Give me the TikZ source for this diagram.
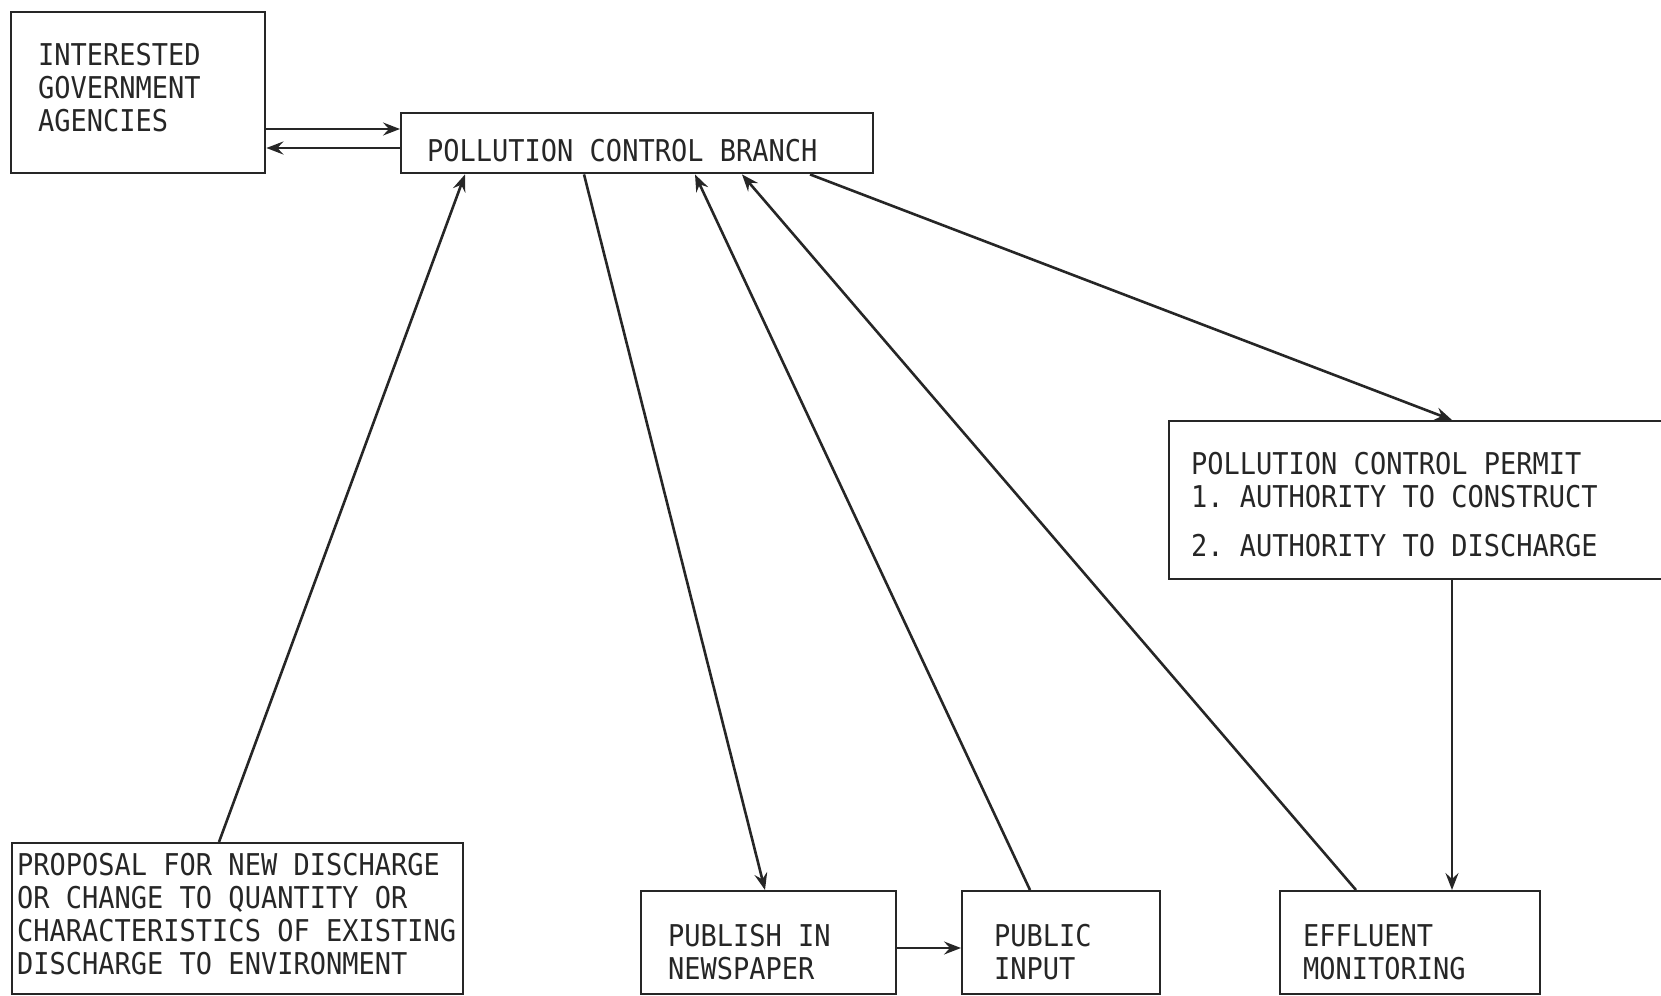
\documentclass[tikz,border=0pt]{standalone}
\usepackage{fontspec}
\usetikzlibrary{arrows.meta}
\newfontfamily\boxfont[FakeStretch=0.9]{DejaVu Sans Mono}
\newcommand\boxtext{\boxfont\fontsize{15}{16.5}\selectfont}
\newcommand\monospace{\spaceskip 0.542em\xspaceskip 0.542em\relax}
\begin{document}
\begin{tikzpicture}[x=0.5pt,y=-0.5pt,
    box/.style={draw=black!85,line width=1.2pt,anchor=north west,align=left,
        inner ysep=0pt,font=\boxtext,text=black!85,execute at begin node=\monospace},
    flow/.style={draw=black!85,line width=1.3pt,-{Stealth[length=8.5pt,width=6.5pt,inset=3pt]}}]
        \useasboundingbox (0,0) rectangle (1661,996);
        \node[box,text width=100pt,inner xsep=13.5pt,text height=26.5pt,text depth=54pt] (gov) at (10,11) {INTERESTED\\GOVERNMENT\\AGENCIES};
        \node[box,text width=210pt,inner xsep=13pt,text height=24pt,text depth=6pt] (pcb) at (400,112) {POLLUTION CONTROL BRANCH};
        \node[box,text width=234pt,inner xsep=11pt,text height=26.5pt,text depth=52.5pt] (permit) at (1168,420) {POLLUTION CONTROL PERMIT\\1. AUTHORITY TO CONSTRUCT\\[8pt]2. AUTHORITY TO DISCHARGE};
        \node[box,text width=220.5pt,inner xsep=2.5pt,text height=16pt,text depth=59.5pt] (prop) at (11,842) {PROPOSAL FOR NEW DISCHARGE\\OR CHANGE TO QUANTITY OR\\CHARACTERISTICS OF EXISTING\\DISCHARGE TO ENVIRONMENT};
        \node[box,text width=100.5pt,inner xsep=13.5pt,text height=27.5pt,text depth=24pt] (pub) at (640,890) {PUBLISH IN\\NEWSPAPER};
        \node[box,text width=67pt,inner xsep=16pt,text height=27.5pt,text depth=24pt] (input) at (961,890) {PUBLIC\\INPUT};
        \node[box,text width=107pt,inner xsep=11.5pt,text height=27.5pt,text depth=24pt] (eff) at (1279,890) {EFFLUENT\\MONITORING};
        \path ([yshift=-59pt]gov.north east) edge[flow] ([yshift=-8.5pt]pcb.north west);
        \path ([yshift=-18pt]pcb.north west) edge[flow] ([yshift=-68.5pt]gov.north east);
        \path ([xshift=104pt]prop.north west) edge[flow] ([xshift=32.5pt]pcb.south west);
        \path ([xshift=92pt]pcb.south west) edge[flow] ([xshift=62.5pt]pub.north west);
        \path ([xshift=34.5pt]input.north west) edge[flow] ([xshift=147.5pt]pcb.south west);
        \path ([xshift=38.5pt]eff.north west) edge[flow] ([xshift=171pt]pcb.south west);
        \path ([xshift=205pt]pcb.south west) edge[flow] ([xshift=142pt]permit.north west);
        \path ([xshift=142pt]permit.south west) edge[flow] ([xshift=86.5pt]eff.north west);
        \path ([yshift=-29pt]pub.north east) edge[flow] ([yshift=-29pt]input.north west);
    \end{tikzpicture}
\end{document}
